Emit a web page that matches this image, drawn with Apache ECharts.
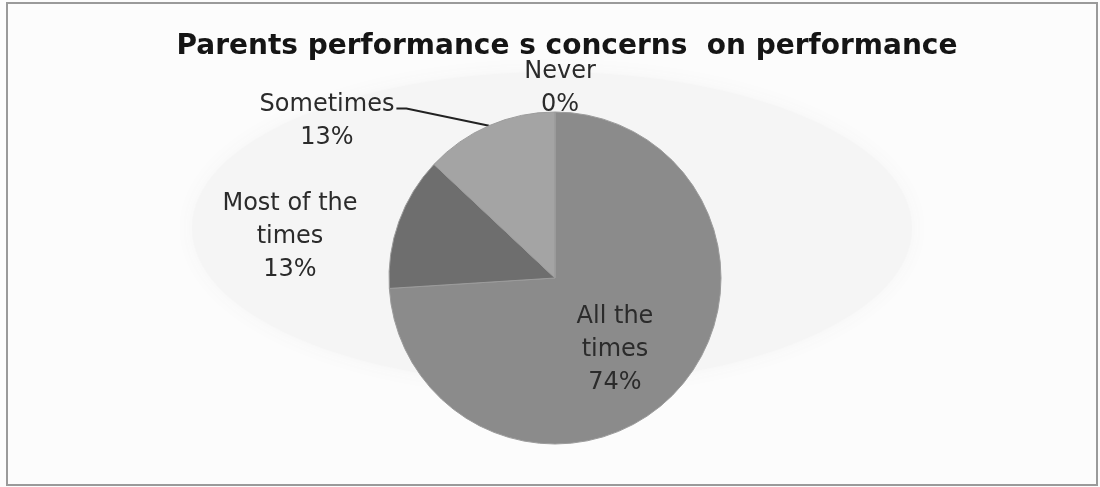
<!DOCTYPE html>
<html>
<head>
<meta charset="utf-8">
<script src="https://cdn.jsdelivr.net/npm/echarts@6/dist/echarts.min.js"></script>
<style>
html,body{margin:0;padding:0;background:#fcfcfc;}
#chart{width:1100px;height:487px;}
</style>
</head>
<body>
<div id="chart"></div>
<script>
// ---- data ----
var titleText = 'Parents performance s concerns  on performance';
var categories = ['All the times', 'Most of the times', 'Sometimes', 'Never'];
var labelNames = ['All the\ntimes', 'Most of the\ntimes', 'Sometimes', 'Never'];
var values = [74, 13, 13, 0];
var sliceColors = ['#8b8b8b', '#6e6e6e', '#a4a4a4', '#bdbdbd'];

// label anchor points (pixel positions of label centres)
var labelPos = [[615, 350], [290, 237], [327, 121], [560, 88]];
var showLine = [false, false, true, false];
var LINE_H = 33;

var chart = echarts.init(document.getElementById('chart'), null, {renderer: 'canvas'});

var data = categories.map(function (c, i) {
  return {
    name: c,
    value: values[i],
    itemStyle: {color: sliceColors[i]},
    label: {position: i === 0 ? 'inside' : 'outside'},
    labelLine: {show: showLine[i], lineStyle: {color: '#222', width: 2}, length: 10, length2: 12}
  };
});

chart.setOption({
  backgroundColor: '#fcfcfc',
  animation: false,
  title: {
    text: titleText,
    left: 562,
    top: 28,
    textAlign: 'center',
    textStyle: {fontFamily: 'DejaVu Sans', fontWeight: 'bold', fontSize: 28, color: '#151515'}
  },
  graphic: [{
    type: 'ellipse',
    shape: {cx: 552, cy: 228, rx: 360, ry: 156},
    style: {fill: '#f5f5f5', stroke: null, shadowBlur: 20, shadowColor: '#f5f5f5'},
    silent: true,
    z: -10
  }, {
    type: 'rect',
    shape: {x: 7, y: 3, width: 1090, height: 482},
    style: {fill: null, stroke: '#9a9a9a', lineWidth: 2},
    silent: true
  }],
  series: [{
    type: 'pie',
    center: [555, 278],
    radius: 166,
    startAngle: 90,
    clockwise: true,
    minAngle: 0,
    avoidLabelOverlap: false,
    stillShowZeroSum: true,
    itemStyle: {borderColor: '#9c9c9c', borderWidth: 1},
    label: {
      show: true,
      formatter: function (p) { return labelNames[p.dataIndex] + '\n' + p.percent + '%'; },
      fontFamily: 'DejaVu Sans',
      fontSize: 24,
      lineHeight: LINE_H,
      color: '#2b2b2b',
      align: 'center'
    },
    labelLayout: function (p) {
      var pos = labelPos[p.dataIndex];
      var out = {x: pos[0], y: pos[1], align: 'center', verticalAlign: 'middle', hideOverlap: false};
      if (showLine[p.dataIndex] && p.labelLinePoints && p.labelLinePoints.length) {
        var w = p.labelRect.width, h = p.labelRect.height;
        var right = pos[0] + w / 2 + 2;
        var firstMid = pos[1] - h / 2 + LINE_H / 2 + 4;
        var start = p.labelLinePoints[0];
        out.labelLinePoints = [start, [right + 10, firstMid], [right, firstMid]];
      }
      return out;
    },
    data: data
  }]
});
</script>
</body>
</html>
